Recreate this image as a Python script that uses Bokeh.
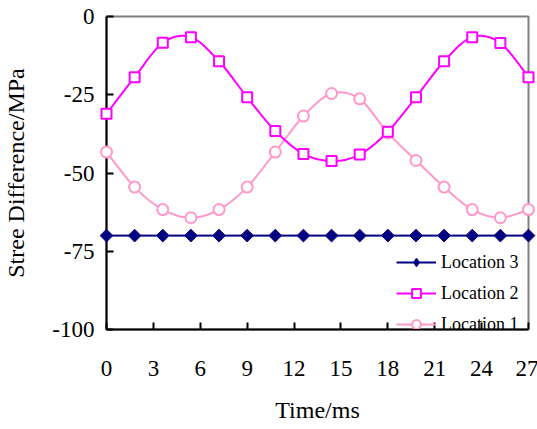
from bokeh.plotting import figure
from bokeh.models import Range1d, Legend, LegendItem, ColumnDataSource, FixedTicker
from bokeh.embed import file_html
from bokeh.resources import INLINE
import numpy as np

# ---- data ----
time_ms = [0, 1.8, 3.6, 5.4, 7.2, 9, 10.8, 12.6, 14.4, 16.2, 18, 19.8, 21.6, 23.4, 25.2, 27]
location1 = [-43.3, -54.5, -61.7, -64.3, -61.7, -54.5, -43.3, -31.8, -24.6, -26.3, -37.2, -46.0, -54.5, -61.7, -64.3, -61.7]
location2 = [-31.1, -19.4, -8.4, -6.6, -14.3, -25.8, -36.6, -43.9, -46.2, -44.1, -36.8, -25.8, -14.3, -6.6, -8.5, -19.4]
location3 = [-70] * 16
x_ticks = [0, 3, 6, 9, 12, 15, 18, 21, 24, 27]
y_ticks = [0, -25, -50, -75, -100]

FONT = "Liberation Serif"

p = figure(frame_width=422, frame_height=313,
           x_range=Range1d(0, 27), y_range=Range1d(-100, 0),
           output_backend="svg", toolbar_location=None,
           min_border_left=105, min_border_top=16, min_border_right=10, min_border_bottom=10)
p.background_fill_color = "white"
p.border_fill_color = "white"
p.grid.visible = False
p.outline_line_color = "#808080"
p.outline_line_width = 2

p.xaxis.ticker = FixedTicker(ticks=x_ticks)
p.yaxis.ticker = FixedTicker(ticks=y_ticks)
p.xaxis.major_label_overrides = {t: str(t) for t in x_ticks}
p.yaxis.major_label_overrides = {t: str(t) for t in y_ticks}
for ax in (p.xaxis[0], p.yaxis[0]):
    ax.axis_line_color = "black"
    ax.axis_line_width = 2
    ax.major_tick_line_color = "black"
    ax.major_tick_line_width = 2
    ax.major_tick_in = 7
    ax.major_tick_out = 0
    ax.minor_tick_line_color = None
    ax.major_label_text_font = FONT
    ax.major_label_text_font_size = "23px"
    ax.major_label_text_color = "black"
    ax.axis_label_text_font = FONT
    ax.axis_label_text_font_size = "24px"
    ax.axis_label_text_font_style = "normal"
    ax.axis_label_text_color = "black"

p.xaxis.axis_label = "Time/ms"
p.yaxis.axis_label = "Stree Difference/MPa"
p.xaxis.major_label_standoff = 31
p.xaxis.axis_label_standoff = 18
p.yaxis.major_label_standoff = 12
p.yaxis.axis_label_standoff = 20


def smooth(xs, ys):
    xs = np.asarray(xs, float)
    ys = np.asarray(ys, float)
    n = len(xs)
    xp = np.concatenate([[xs[0]], xs, [xs[-1]]])
    yp = np.concatenate([[ys[0]], ys, [ys[-1]]])
    d = {}
    d["x0"] = xs[:-1]; d["y0"] = ys[:-1]
    d["x1"] = xs[1:]; d["y1"] = ys[1:]
    d["cx0"] = xs[:-1] + (xp[2:n + 1] - xp[0:n - 1]) / 6.0
    d["cy0"] = ys[:-1] + (yp[2:n + 1] - yp[0:n - 1]) / 6.0
    d["cx1"] = xs[1:] - (xp[3:n + 2] - xp[1:n]) / 6.0
    d["cy1"] = ys[1:] - (yp[3:n + 2] - yp[1:n]) / 6.0
    return ColumnDataSource(d)


series = [
    ("Location 3", location3, "#000080", "square", 9, "#000080", np.pi / 4, 1, "diamond", 14),
    ("Location 2", location2, "#FF00FF", "square", 10, "white", 0, 2, "square", 9),
    ("Location 1", location1, "#FF99CC", "circle", 11, "white", 0, 2, "circle", 9),
]

items = {}
for name, ys, col, marker, size, fill, ang, lw, lmarker, lsize in reversed(series):
    b = p.bezier(x0="x0", y0="y0", x1="x1", y1="y1", cx0="cx0", cy0="cy0", cx1="cx1", cy1="cy1",
                 source=smooth(time_ms, ys), line_color=col, line_width=2)
    b.level = "overlay"
    s = p.scatter(time_ms, ys, marker=marker, size=size, angle=ang, line_color=col,
                  fill_color=fill, line_width=lw)
    s.level = "overlay"
    dummy_line = p.line(x=[np.nan], y=[np.nan], line_color=col, line_width=2)
    dummy_mark = p.scatter(x=[np.nan], y=[np.nan], marker=lmarker, size=lsize, line_color=col,
                           fill_color=fill, line_width=lw)
    items[name] = LegendItem(label=name, renderers=[dummy_line, dummy_mark])

legend = Legend(items=[items[n] for n, *_ in series],
                location=(290, -6), padding=0, margin=0, spacing=9,
                glyph_width=40, glyph_height=22, label_standoff=5,
                label_text_font=FONT, label_text_font_size="18px", label_text_color="black",
                border_line_color=None, background_fill_alpha=0)
p.add_layout(legend)

open("out.html", "w").write(file_html(p, INLINE))
